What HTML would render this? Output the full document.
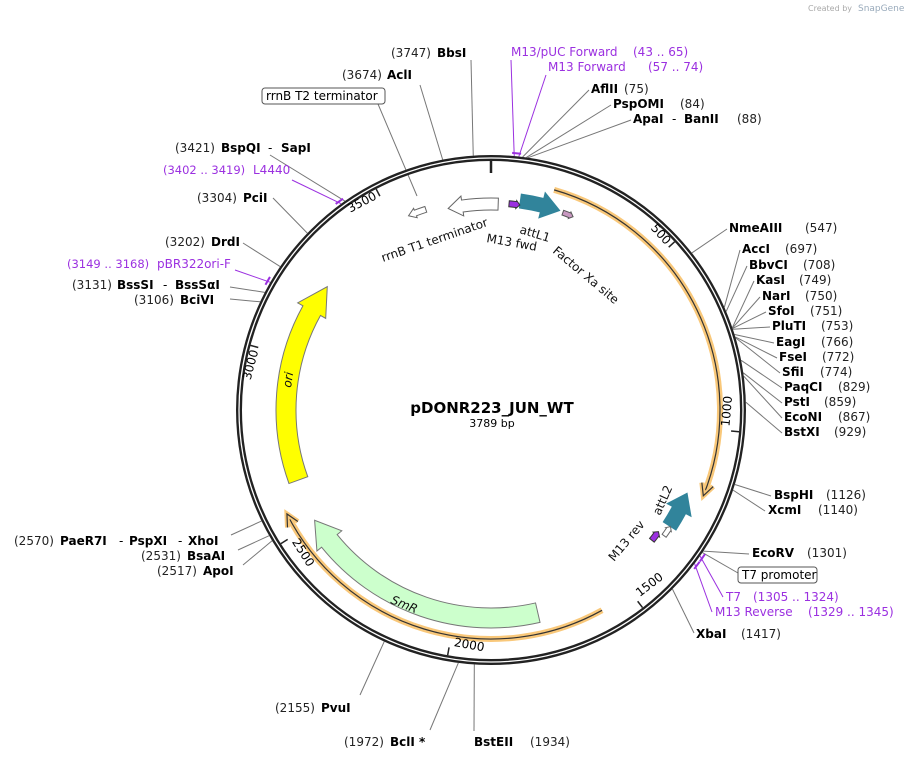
<!DOCTYPE html>
<html><head><meta charset="utf-8">
<style>
html,body{margin:0;padding:0;background:#fff;width:905px;height:760px;overflow:hidden}
svg{display:block}
text{font-family:"DejaVu Sans","Liberation Sans",sans-serif;font-size:12px;fill:#000}
.b{font-weight:bold}
.n{fill:#222}
.p{fill:#9b30e0}
.f{font-size:12px;fill:#111}
</style></head>
<body>
<svg id="s" width="905" height="760" viewBox="0 0 905 760" xmlns="http://www.w3.org/2000/svg">
<g id="lines" stroke="#777" stroke-width="1" fill="none"></g>
<g id="feat"></g>
<circle cx="491" cy="410" r="252" fill="none" stroke="#222" stroke-width="6"/>
<circle cx="491" cy="410" r="252" fill="none" stroke="#fff" stroke-width="1.3"/>
<g id="ticks"></g>

<text x="808" y="11" style="font-size:8px;fill:#aaa">Created by</text>
<text x="858" y="11" style="font-size:9px;fill:#9ab">SnapGene</text>

<text x="492" y="413" text-anchor="middle" class="b" style="font-size:15px">pDONR223_JUN_WT</text>
<text x="492" y="427" text-anchor="middle" style="font-size:11px">3789 bp</text>

<text x="391" y="57" class="n">(3747)</text><text x="437" y="57" class="b">BbsI</text>
<text x="342" y="79" class="n">(3674)</text><text x="387" y="79" class="b">AclI</text>
<rect x="262" y="88" width="123" height="16" rx="3" fill="#fff" stroke="#555"/>
<text x="266" y="100">rrnB T2 terminator</text>
<text x="511" y="56" class="p">M13/pUC Forward</text><text x="633" y="56" class="p">(43 .. 65)</text>
<text x="548" y="71" class="p">M13 Forward</text><text x="648" y="71" class="p">(57 .. 74)</text>
<text x="591" y="93" class="b">AflII</text><text x="624" y="93" class="n">(75)</text>
<text x="613" y="108" class="b">PspOMI</text><text x="680" y="108" class="n">(84)</text>
<text x="633" y="123" class="b">ApaI</text><text x="672" y="123">-</text><text x="684" y="123" class="b">BanII</text><text x="737" y="123" class="n">(88)</text>

<text x="175" y="152" class="n">(3421)</text><text x="221" y="152" class="b">BspQI</text><text x="268" y="152">-</text><text x="281" y="152" class="b">SapI</text>
<text x="163" y="174" class="p" style="font-size:11.5px">(3402 .. 3419)</text><text x="253" y="174" class="p">L4440</text>
<text x="197" y="202" class="n">(3304)</text><text x="243" y="202" class="b">PciI</text>
<text x="165" y="246" class="n">(3202)</text><text x="211" y="246" class="b">DrdI</text>
<text x="67" y="268" class="p" style="font-size:11.5px">(3149 .. 3168)</text><text x="157" y="268" class="p">pBR322ori-F</text>
<text x="72" y="289" class="n">(3131)</text><text x="117" y="289" class="b">BssSI</text><text x="163" y="289">-</text><text x="175" y="289" class="b">BssSαI</text>
<text x="134" y="304" class="n">(3106)</text><text x="180" y="304" class="b">BciVI</text>

<text x="729" y="232" class="b">NmeAIII</text><text x="805" y="232" class="n">(547)</text>
<text x="742" y="253" class="b">AccI</text><text x="785" y="253" class="n">(697)</text>
<text x="749" y="269" class="b">BbvCI</text><text x="803" y="269" class="n">(708)</text>
<text x="756" y="284" class="b">KasI</text><text x="799" y="284" class="n">(749)</text>
<text x="762" y="300" class="b">NarI</text><text x="805" y="300" class="n">(750)</text>
<text x="768" y="315" class="b">SfoI</text><text x="810" y="315" class="n">(751)</text>
<text x="772" y="330" class="b">PluTI</text><text x="821" y="330" class="n">(753)</text>
<text x="776" y="346" class="b">EagI</text><text x="821" y="346" class="n">(766)</text>
<text x="779" y="361" class="b">FseI</text><text x="822" y="361" class="n">(772)</text>
<text x="782" y="376" class="b">SfiI</text><text x="820" y="376" class="n">(774)</text>
<text x="784" y="391" class="b">PaqCI</text><text x="838" y="391" class="n">(829)</text>
<text x="784" y="406" class="b">PstI</text><text x="824" y="406" class="n">(859)</text>
<text x="784" y="421" class="b">EcoNI</text><text x="838" y="421" class="n">(867)</text>
<text x="784" y="436" class="b">BstXI</text><text x="834" y="436" class="n">(929)</text>

<text x="774" y="499" class="b">BspHI</text><text x="826" y="499" class="n">(1126)</text>
<text x="768" y="514" class="b">XcmI</text><text x="818" y="514" class="n">(1140)</text>
<text x="752" y="557" class="b">EcoRV</text><text x="807" y="557" class="n">(1301)</text>
<rect x="738" y="567" width="79" height="16" rx="3" fill="#fff" stroke="#555"/>
<text x="742" y="579">T7 promoter</text>
<text x="726" y="601" class="p">T7</text><text x="753" y="601" class="p">(1305 .. 1324)</text>
<text x="715" y="616" class="p">M13 Reverse</text><text x="808" y="616" class="p">(1329 .. 1345)</text>
<text x="696" y="638" class="b">XbaI</text><text x="741" y="638" class="n">(1417)</text>

<text x="14" y="545" class="n">(2570)</text><text x="60" y="545" class="b">PaeR7I</text><text x="119" y="545">-</text><text x="129" y="545" class="b">PspXI</text><text x="178" y="545">-</text><text x="188" y="545" class="b">XhoI</text>
<text x="141" y="560" class="n">(2531)</text><text x="187" y="560" class="b">BsaAI</text>
<text x="157" y="575" class="n">(2517)</text><text x="203" y="575" class="b">ApoI</text>
<text x="275" y="712" class="n">(2155)</text><text x="321" y="712" class="b">PvuI</text>
<text x="344" y="746" class="n">(1972)</text><text x="390" y="746" class="b">BclI *</text>
<text x="474" y="746" class="b">BstEII</text><text x="530" y="746" class="n">(1934)</text>

<text transform="translate(383,262) rotate(-19)" class="f">rrnB T1 terminator</text>
<text transform="translate(519,233) rotate(17)" class="f">attL1</text>
<text transform="translate(486,242) rotate(10)" class="f">M13 fwd</text>
<text transform="translate(552,252) rotate(40)" class="f">Factor Xa site</text>
<text transform="translate(660,516) rotate(-66)" class="f">attL2</text>
<text transform="translate(614,562) rotate(-50)" class="f">M13 rev</text>
<text transform="translate(291,388) rotate(-82)" class="f" style="font-style:italic">ori</text>
<text transform="translate(390,603) rotate(22)" class="f" style="font-style:italic">SmR</text>
</svg>
<script>
var cx=491,cy=410,N=3789,NS='http://www.w3.org/2000/svg';
function P(a,r){var t=a*Math.PI/180;return [cx+r*Math.sin(t),cy-r*Math.cos(t)];}
function A(bp){return bp/N*360;}
function el(g,tag,at){var e=document.createElementNS(NS,tag);for(var k in at)e.setAttribute(k,at[k]);document.getElementById(g).appendChild(e);return e;}
function arcD(r,a1,a2){var p1=P(a1,r),p2=P(a2,r);var l=Math.abs(a2-a1)>180?1:0;var sw=a2>a1?1:0;return 'M'+p1[0]+' '+p1[1]+' A'+r+' '+r+' 0 '+l+' '+sw+' '+p2[0]+' '+p2[1];}
function arrow(r,w,a1,a2,hl,hw,fill,stroke){
 var d=a2>a1?1:-1, ah=a2-d*hl;
 var ro=r+w/2,ri=r-w/2;
 var o1=P(a1,ro),o2=P(ah,ro),h1=P(ah,ro+hw),t=P(a2,r),h2=P(ah,ri-hw),i2=P(ah,ri),i1=P(a1,ri);
 var sw=d>0?1:0, sw2=d>0?0:1, l=Math.abs(ah-a1)>180?1:0;
 var s='M'+o1+' A'+ro+' '+ro+' 0 '+l+' '+sw+' '+o2+' L'+h1+' L'+t+' L'+h2+' L'+i2+' A'+ri+' '+ri+' 0 '+l+' '+sw2+' '+i1+' Z';
 el('feat','path',{d:s.replace(/,/g,' '),fill:fill,stroke:stroke||'#666','stroke-width':1});
}
function orf(a1,a2){
 el('feat','path',{d:arcD(229,a1,a2),stroke:'#f9c87a','stroke-width':6,fill:'none'});
 el('feat','path',{d:arcD(229,a1,a2),stroke:'#333','stroke-width':1.2,fill:'none'});
 var d=a2>a1?1:-1,t=P(a2,229),b1=P(a2-d*3,235),b2=P(a2-d*3,223);
 el('feat','path',{d:'M'+b1+' L'+t+' L'+b2,stroke:'#f9c87a','stroke-width':5,fill:'none'});
 el('feat','path',{d:'M'+b1+' L'+t+' L'+b2,stroke:'#333','stroke-width':1.2,fill:'none'});
}
orf(16,112);orf(151,243);
arrow(205,20,250,307,8,6,'#ffff00','#777');
arrow(208,20,167,238,7,6,'#ccffcc','#777');
arrow(211,14,8,19,5,6,'#31849b','#31849b');
arrow(213,15,123,113,5,6,'#31849b','#31849b');
arrow(206,12,2,-12,4,4,'#fff','#666');
arrow(211,6,342,337,2,2,'#fff','#666');
arrow(207,6,5,8,1,1,'#9b30e0','#333');
arrow(210,5,20,23,1,1,'#c898c0','#555');
arrow(207,6,129,126,1,1,'#9b30e0','#333');
arrow(214,5,126,123,1,1,'#fff','#666');
el('ticks','path',{d:'M'+P(0,249)+' L'+P(0,237),stroke:'#222','stroke-width':2.5});
[500,1000,1500,2000,2500,3000,3500].forEach(function(b){
 var a=A(b);el('ticks','path',{d:'M'+P(a,249)+' L'+P(a,241),stroke:'#222','stroke-width':1.5});
 var top=(a<90||a>270);
 var rot=top?(a>180?a-360:a):a-180;
 var p=top?P(a-0.8,240):P(a-1,239);
 var t=el('ticks','text',{transform:'translate('+p[0]+','+p[1]+') rotate('+rot+')','text-anchor':top?'end':'start',style:'font-size:12px'});
 t.textContent=b;
});
function L(bp,x,y,col){var p=P(A(bp),255);el('lines','path',{d:'M'+p[0]+' '+p[1]+' L'+x+' '+y,stroke:col||'#777'});}
L(3747,471,60);L(3674,420,85);
el('lines','path',{d:'M417 196 L378 104'});
L(55,511,60,'#9b30e0');L(66,546,75,'#9b30e0');
L(75,589,90);L(84,611,105);L(88,631,120);
L(3421,270,155);L(3410,292,180,'#9b30e0');L(3304,273,198);L(3202,243,243);L(3158,235,270,'#9b30e0');L(3131,230,287);L(3106,230,299);
L(547,727,229);L(697,740,250);L(708,747,266);L(749,754,281);L(750,760,297);L(751,766,312);L(753,770,327);L(766,774,343);L(772,777,358);L(774,780,373);L(829,782,388);L(859,782,403);L(867,782,418);L(929,782,433);
L(1126,771,496);L(1140,765,511);L(1301,749,554);L(1305,738,573);L(1315,723,597,'#9b30e0');L(1337,712,612,'#9b30e0');L(1417,694,633);
L(2570,231,535);L(2531,238,550);L(2517,243,565);L(2155,360,695);L(1972,430,730);L(1934,474,731);
[[60,'#9b30e0'],[3410,'#9b30e0'],[3158,'#9b30e0'],[1315,'#9b30e0'],[1337,'#9b30e0']].forEach(function(m){var a=A(m[0]);el('feat','path',{d:'M'+P(a-1,258)+' L'+P(a+1,258),stroke:m[1],'stroke-width':2});});
</script>
</body></html>
